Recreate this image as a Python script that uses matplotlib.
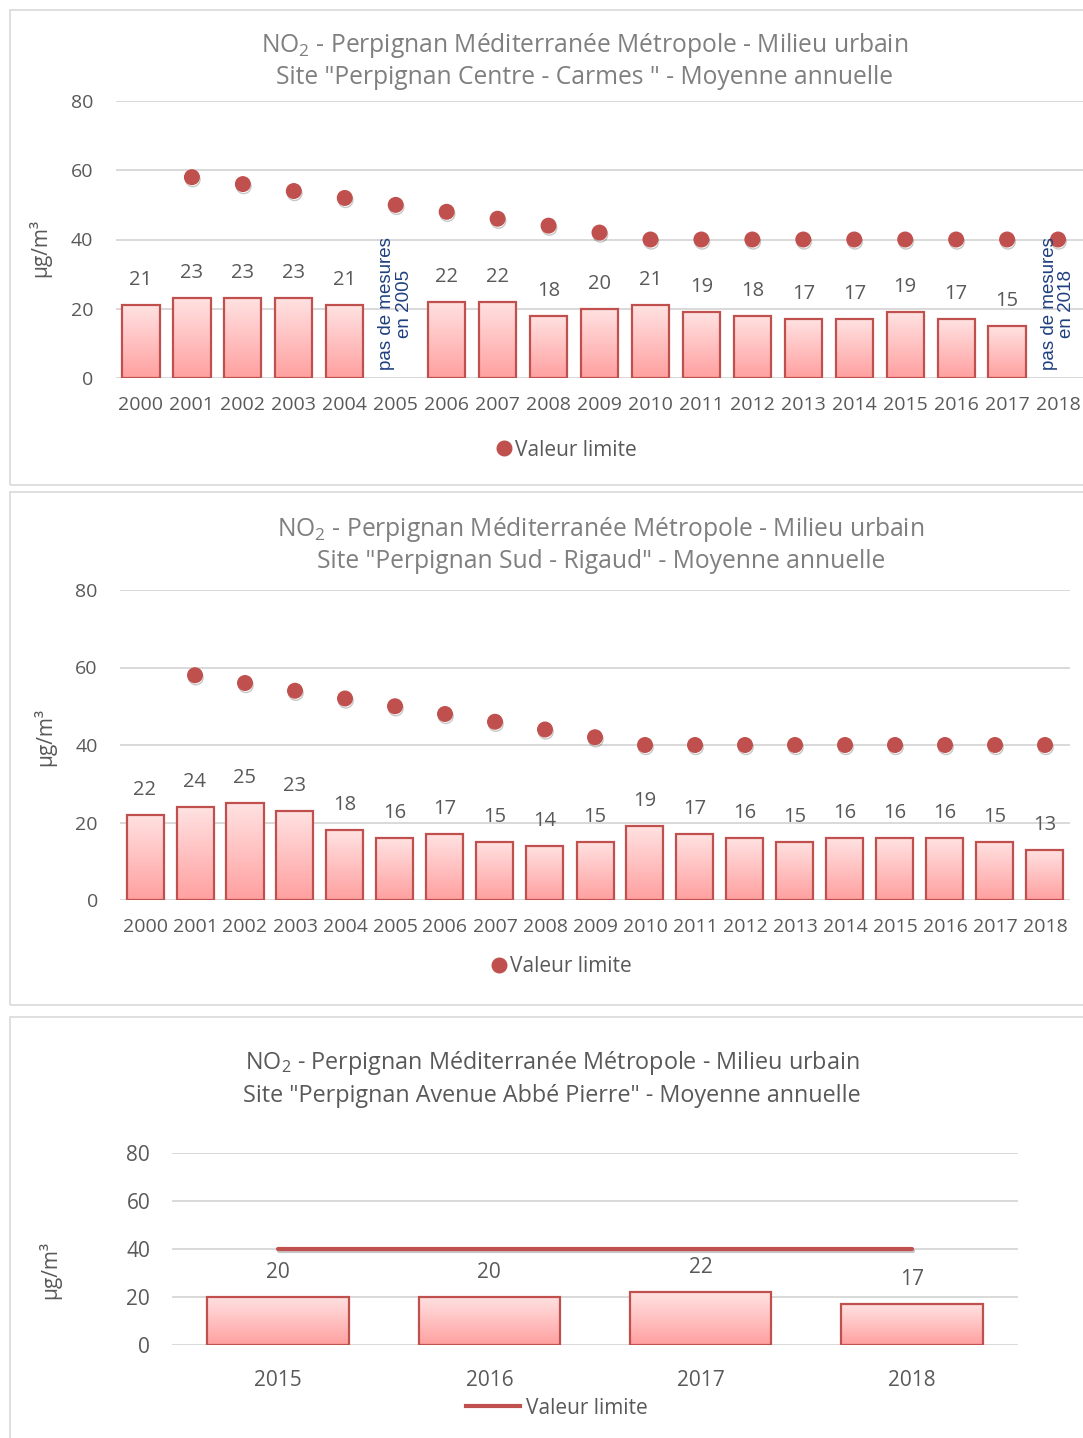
import numpy as np
import matplotlib
matplotlib.use("Agg")
import matplotlib.pyplot as plt
import matplotlib.patheffects as pe
from matplotlib.patches import Rectangle
from matplotlib.lines import Line2D

plt.rcParams['font.family'] = ['Open Sans', 'DejaVu Sans']
plt.rcParams['mathtext.fontset'] = 'custom'
plt.rcParams['mathtext.rm'] = 'Open Sans'
plt.rcParams['mathtext.it'] = 'Open Sans'
plt.rcParams['mathtext.default'] = 'rm'

# ---- data ----
years_long = [str(y) for y in range(2000, 2019)]

carmes_values = [21, 23, 23, 23, 21, None, 22, 22, 18, 20, 21, 19, 18, 17, 17, 19, 17, 15, None]
carmes_limit = [None, 58, 56, 54, 52, 50, 48, 46, 44, 42, 40, 40, 40, 40, 40, 40, 40, 40, 40]
carmes_missing = {"2005": "pas de mesures\nen 2005", "2018": "pas de mesures\nen 2018"}

rigaud_values = [22, 24, 25, 23, 18, 16, 17, 15, 14, 15, 19, 17, 16, 15, 16, 16, 16, 15, 13]
rigaud_limit = [None, 58, 56, 54, 52, 50, 48, 46, 44, 42, 40, 40, 40, 40, 40, 40, 40, 40, 40]

abbe_years = ["2015", "2016", "2017", "2018"]
abbe_values = [20, 20, 22, 17]
abbe_limit = [40, 40, 40, 40]

yticks = [0, 20, 40, 60, 80]

title_l1 = "NO$_2$ - Perpignan Méditerranée Métropole - Milieu urbain"
titles_l2 = ['Site "Perpignan Centre - Carmes " - Moyenne annuelle',
             'Site "Perpignan Sud - Rigaud" - Moyenne annuelle',
             'Site "Perpignan Avenue Abbé Pierre" - Moyenne annuelle']

# ---- style ----
W, H = 1083, 1438
RED = '#c0504d'
GRID = '#d9d9d9'
TXT = '#7f7f7f'
TXT_DARK = '#595959'
NAVY = '#1f3f7f'

fig = plt.figure(figsize=(W / 100, H / 100), dpi=100)
fig.patch.set_facecolor('white')


def px_axes(left, top, right, bottom):
    return fig.add_axes([left / W, 1 - bottom / H, (right - left) / W, (bottom - top) / H])


def fx(x):
    return x / W


def fy(y):
    return 1 - y / H


# panel frames
for (l, t, r, b) in [(10, 10, 1090, 485), (10, 492, 1090, 1005), (10, 1017, 1090, 1450)]:
    fig.patches.append(Rectangle((fx(l), fy(b)), fx(r - l), (b - t) / H,
                                 transform=fig.transFigure, fill=False,
                                 edgecolor=GRID, linewidth=1.2, zorder=0))

grad = np.linspace(0, 1, 256).reshape(-1, 1, 1)
top_c = np.array([255, 226, 226]) / 255
bot_c = np.array([255, 160, 160]) / 255
grad_img = top_c[None, None, :] * (1 - grad) + bot_c[None, None, :] * grad

line_shadow = [pe.SimpleLineShadow(offset=(0.6, -1.6), alpha=0.22, shadow_color='k'), pe.Normal()]


def style_axes(ax, n, tick_size, xpad, ypad):
    ax.set_xlim(-0.5, n - 0.5)
    ax.set_ylim(0, 80)
    ax.set_yticks(yticks)
    for s in ax.spines.values():
        s.set_visible(False)
    ax.grid(axis='y', color=GRID, linewidth=1.4, zorder=0)
    ax.set_axisbelow(True)
    ax.tick_params(axis='both', length=0, colors=TXT_DARK, labelsize=tick_size)
    ax.tick_params(axis='x', pad=xpad)
    ax.tick_params(axis='y', pad=ypad)
    ax.set_facecolor('none')


def draw_bars(ax, values, width, lab_offset, lab_size):
    xs = [i for i, v in enumerate(values) if v is not None]
    vs = [v for v in values if v is not None]
    bars = ax.bar(xs, vs, width=width, facecolor='none', edgecolor=RED,
                  linewidth=1.6, zorder=3)
    for b, v in zip(bars, vs):
        x0 = b.get_x()
        im = ax.imshow(grad_img, extent=(x0, x0 + b.get_width(), 0, v),
                       aspect='auto', origin='upper', zorder=2,
                       interpolation='bilinear')
        im.set_clip_path(b)
        ax.annotate(str(v), (b.get_x() + b.get_width() / 2, v),
                    xytext=(0, lab_offset), textcoords='offset points',
                    ha='center', va='center', fontsize=lab_size, color=TXT_DARK)


def ylabel(x, y):
    fig.text(fx(x), fy(y), "µg/m³", rotation=90, ha='center', va='center',
             fontsize=15, color=TXT_DARK)


def titles(cx, y1, y2, color, text2, size):
    fig.text(fx(cx), fy(y1), title_l1, ha='center', va='center', fontsize=size, color=color)
    fig.text(fx(cx), fy(y2), text2, ha='center', va='center', fontsize=size, color=color)


def dot_legend(cx, cy):
    h = Line2D([], [], linestyle='none', marker='o', markersize=10.5, color=RED)
    fig.legend([h], ["Valeur limite"], loc='center', bbox_to_anchor=(fx(cx), fy(cy)),
               frameon=False, fontsize=15, labelcolor=TXT_DARK,
               handletextpad=0.0, handlelength=1.0, borderpad=0)


def dots(ax, limit):
    lx = [i for i, v in enumerate(limit) if v is not None]
    lv = [v for v in limit if v is not None]
    ax.plot(lx, lv, linestyle='none', marker='o', markersize=10.5, color=RED,
            zorder=4, path_effects=line_shadow)


# ---- panel 1 : Carmes ----
ax1 = px_axes(115.5, 101, 1083.5, 378)
style_axes(ax1, len(years_long), 14, 13, 16)
ax1.set_xticks(range(len(years_long)), years_long)
draw_bars(ax1, carmes_values, 0.73, 18, 14.5)
dots(ax1, carmes_limit)
for yr, txt in carmes_missing.items():
    ax1.text(years_long.index(yr), 2.3, txt, rotation=90, ha='center', va='bottom',
             multialignment='center', fontsize=13.5, color=NAVY,
             family='Liberation Sans', linespacing=1.05, zorder=5)
titles(585, 45, 77, TXT, titles_l2[0], 17.7)
ylabel(40, 248)
dot_legend(565, 450)

# ---- panel 2 : Rigaud ----
ax2 = px_axes(120, 590, 1070, 900)
style_axes(ax2, len(years_long), 14, 13, 16)
ax2.set_xticks(range(len(years_long)), years_long)
draw_bars(ax2, rigaud_values, 0.74, 18, 14.5)
dots(ax2, rigaud_limit)
titles(601, 529, 562, TXT, titles_l2[1], 17.7)
ylabel(45, 737)
dot_legend(560, 967)

# ---- panel 3 : Abbé Pierre ----
ax3 = px_axes(172.4, 1153, 1017.6, 1345)
style_axes(ax3, len(abbe_years), 15, 18, 16)
ax3.set_xticks(range(len(abbe_years)), abbe_years)
draw_bars(ax3, abbe_values, 0.67, 18, 15)
ax3.plot(range(len(abbe_years)), abbe_limit, color=RED, linewidth=3.0,
         solid_capstyle='round', zorder=4, path_effects=line_shadow)
titles(552, 1063, 1096, TXT_DARK, titles_l2[2], 16.8)
ylabel(50, 1270)
h3 = Line2D([], [], color=RED, linewidth=3.0)
fig.legend([h3], ["Valeur limite"], loc='center', bbox_to_anchor=(fx(557), fy(1408)),
           frameon=False, fontsize=15, labelcolor=TXT_DARK,
           handletextpad=0.3, handlelength=2.6, borderpad=0)

fig.savefig("out.png", dpi=100, facecolor='white')
